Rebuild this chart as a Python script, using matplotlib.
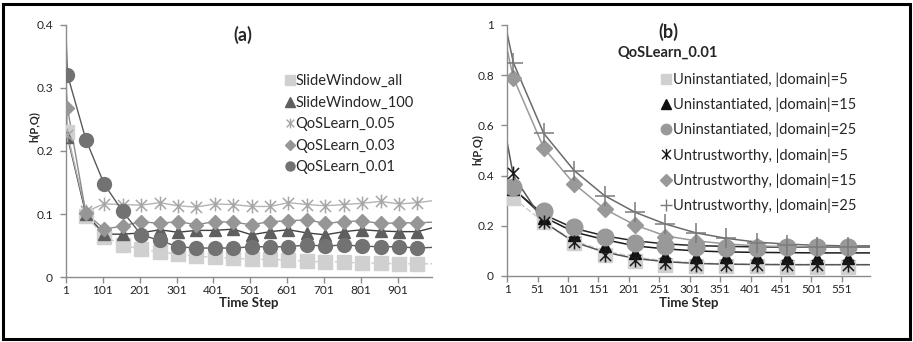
import numpy as np
import matplotlib
matplotlib.use("Agg")
import matplotlib.pyplot as plt
from matplotlib.path import Path
from matplotlib.lines import Line2D
from matplotlib.patches import Rectangle

plt.rcParams['font.family'] = ['Lato', 'DejaVu Sans']

# ---------- (a) data: marker values every 50 steps ----------
a_steps = [5, 55, 105, 155, 205, 255, 305, 355, 405, 455,
           505, 555, 605, 655, 705, 755, 805, 855, 905, 955]
sw_all = [0.230, 0.097, 0.064, 0.051, 0.044, 0.040, 0.036, 0.033, 0.031, 0.030,
          0.028, 0.028, 0.027, 0.025, 0.024, 0.024, 0.022, 0.022, 0.021, 0.021]
sw_100 = [0.222, 0.100, 0.068, 0.068, 0.070, 0.075, 0.071, 0.074, 0.074, 0.076,
          0.067, 0.072, 0.075, 0.070, 0.067, 0.072, 0.075, 0.073, 0.072, 0.072]
qos_05 = [0.225, 0.104, 0.116, 0.115, 0.114, 0.118, 0.113, 0.111, 0.116, 0.115,
          0.112, 0.112, 0.118, 0.115, 0.113, 0.115, 0.117, 0.120, 0.116, 0.118]
qos_03 = [0.268, 0.101, 0.076, 0.081, 0.088, 0.085, 0.088, 0.083, 0.088, 0.087,
          0.083, 0.088, 0.089, 0.091, 0.085, 0.088, 0.089, 0.085, 0.086, 0.086]
qos_01 = [0.321, 0.218, 0.147, 0.104, 0.067, 0.058, 0.048, 0.046, 0.046, 0.046,
          0.048, 0.048, 0.048, 0.051, 0.049, 0.051, 0.049, 0.048, 0.048, 0.046]
# line values at step 1 and at the last step
a_first = [0.240, 0.230, 0.330, 0.300, 0.385]
a_last = [0.021, 0.078, 0.121, 0.087, 0.047]
a_labels = ['SlideWindow_all', 'SlideWindow_100', 'QoSLearn_0.05',
            'QoSLearn_0.03', 'QoSLearn_0.01']
a_xticks = [1, 101, 201, 301, 401, 501, 601, 701, 801, 901]
a_yticks = [0, 0.1, 0.2, 0.3, 0.4]
a_yticklabels = ['0', '0.1', '0.2', '0.3', '0.4']

# ---------- (b) data ----------
b_steps = [11, 61, 111, 161, 211, 261, 311, 361, 411, 461, 511, 561]
un_5 = [0.310, 0.216, 0.132, 0.084, 0.058, 0.045, 0.040, 0.038, 0.038, 0.037, 0.037, 0.037]
un_15 = [0.345, 0.230, 0.163, 0.118, 0.092, 0.080, 0.075, 0.074, 0.074, 0.073, 0.073, 0.073]
un_25 = [0.356, 0.258, 0.194, 0.154, 0.130, 0.120, 0.117, 0.112, 0.112, 0.114, 0.114, 0.117]
ut_5 = [0.409, 0.216, 0.135, 0.084, 0.062, 0.050, 0.045, 0.044, 0.044, 0.044, 0.044, 0.044]
ut_15 = [0.788, 0.511, 0.367, 0.267, 0.203, 0.157, 0.135, 0.125, 0.118, 0.115, 0.114, 0.114]
ut_25 = [0.847, 0.568, 0.420, 0.320, 0.254, 0.207, 0.170, 0.150, 0.130, 0.124, 0.117, 0.117]
# smooth curves
b_line_steps = [1, 11, 61, 111, 161, 211, 261, 311, 361, 411, 461, 511, 561, 597]
un_5_line = [0.33, 0.31, 0.215, 0.140, 0.100, 0.075, 0.060, 0.052, 0.048, 0.046, 0.046, 0.045, 0.045, 0.045]
un_15_line = [0.38, 0.35, 0.235, 0.175, 0.145, 0.120, 0.108, 0.100, 0.096, 0.094, 0.093, 0.092, 0.092, 0.092]
un_25_line = [0.37, 0.345, 0.245, 0.190, 0.160, 0.140, 0.128, 0.121, 0.118, 0.116, 0.115, 0.115, 0.115, 0.115]
ut_5_line = [0.53, 0.40, 0.215, 0.135, 0.095, 0.070, 0.057, 0.050, 0.047, 0.046, 0.045, 0.045, 0.045, 0.045]
ut_15_line = [0.90, 0.79, 0.510, 0.367, 0.267, 0.203, 0.160, 0.140, 0.128, 0.120, 0.117, 0.116, 0.116, 0.116]
ut_25_line = [0.965, 0.85, 0.568, 0.420, 0.320, 0.254, 0.207, 0.172, 0.150, 0.135, 0.127, 0.122, 0.120, 0.120]
b_labels = ['Uninstantiated, |domain|=5', 'Uninstantiated, |domain|=15',
            'Uninstantiated, |domain|=25', 'Untrustworthy, |domain|=5',
            'Untrustworthy, |domain|=15', 'Untrustworthy, |domain|=25']
b_xticks = [1, 51, 101, 151, 201, 251, 301, 351, 401, 451, 501, 551]
b_yticks = [0, 0.2, 0.4, 0.6, 0.8, 1.0]
b_yticklabels = ['0', '0.2', '0.4', '0.6', '0.8', '1']

# excel style asterisk: X plus a vertical bar
star = Path([(-1, -1), (1, 1), (-1, 1), (1, -1), (0, -1.25), (0, 1.25)],
            [Path.MOVETO, Path.LINETO, Path.MOVETO, Path.LINETO, Path.MOVETO, Path.LINETO])

AXIS_GRAY = '#8c8c8c'
TXT = '#262626'


def style_axes(ax, xlim, ylim, xticks, yticks, yticklabels):
    ax.set_xlim(*xlim)
    ax.set_ylim(*ylim)
    ax.set_xticks(xticks)
    ax.set_xticklabels([str(t) for t in xticks])
    ax.set_yticks(yticks)
    ax.set_yticklabels(yticklabels)
    for s in ['top', 'right']:
        ax.spines[s].set_visible(False)
    for s in ['left', 'bottom']:
        ax.spines[s].set_color(AXIS_GRAY)
        ax.spines[s].set_linewidth(1.0)
    ax.tick_params(direction='out', length=4, width=1, color=AXIS_GRAY,
                   labelsize=8.6, labelcolor=TXT)
    ax.tick_params(axis='y', pad=5.5)
    ax.tick_params(axis='x', pad=2)
    ax.patch.set_alpha(0)


fig = plt.figure(figsize=(9.13, 3.42), dpi=100)

# ---------------- panel (a) ----------------
ax1 = fig.add_axes([0.0723, 0.19, 0.401, 0.737])
a_series = [sw_all, sw_100, qos_05, qos_03, qos_01]
a_line_col = ['#cdcdcd', '#404040', '#b4b4b4', '#8c8c8c', '#5a5a5a']
a_line_ls = ['--', '-', '-', '-', '-']
a_mark = ['s', '^', star, 'D', 'o']
a_mcol = ['#d0d0d0', '#5f5f5f', '#a6a6a6', '#969696', '#727272']
a_msize = [10, 9, 10, 7.5, 10]
x_end_a = 995
for vals, f, l, lc, ls in zip(a_series, a_first, a_last, a_line_col, a_line_ls):
    ax1.plot([1] + a_steps + [x_end_a], [f] + vals + [l], color=lc, lw=1.0, ls=ls, zorder=2)
for vals, m, mc, ms in zip(a_series, a_mark, a_mcol, a_msize):
    if m is star:
        ax1.plot(a_steps, vals, ls='none', marker=m, ms=ms, mfc='none', mec=mc, mew=1.1, zorder=3)
    else:
        ax1.plot(a_steps, vals, ls='none', marker=m, ms=ms, mfc=mc, mec=mc, zorder=3)
style_axes(ax1, (1, x_end_a), (0, 0.4), a_xticks, a_yticks, a_yticklabels)

handles_a = []
for m, mc in zip(a_mark, a_mcol):
    if m is star:
        handles_a.append(Line2D([], [], ls='none', marker=m, ms=7, mfc='none', mec=mc, mew=1.0))
    else:
        handles_a.append(Line2D([], [], ls='none', marker=m, ms=6.5 if m != 'D' else 5.5, mfc=mc, mec=mc))
leg1 = ax1.legend(handles_a, a_labels, loc='upper left', bbox_to_anchor=(0.599, 0.805),
                  frameon=False, fontsize=10.5, handlelength=0.7, handletextpad=0.0,
                  labelspacing=0.52, borderpad=0, borderaxespad=0)
for t in leg1.get_texts():
    t.set_color(TXT)

fig.text(243 / 913, 1 - 35 / 342, '(a)', fontsize=13, fontweight='bold', ha='center', va='center', color=TXT)
fig.text(34 / 913, 1 - 127 / 342, 'h(P,Q)', fontsize=8, fontweight='bold', rotation=90,
         ha='center', va='center', color=TXT)
fig.text(249 / 913, 1 - 303 / 342, 'Time Step', fontsize=9.5, fontweight='bold',
         ha='center', va='center', color=TXT)

# ---------------- panel (b) ----------------
ax2 = fig.add_axes([0.5556, 0.193, 0.397, 0.734])
b_marks = [un_5, un_15, un_25, ut_5, ut_15, ut_25]
b_lines = [un_5_line, un_15_line, un_25_line, ut_5_line, ut_15_line, ut_25_line]
b_line_col = ['#cfcfcf', '#1a1a1a', '#262626', '#555555', '#9a9a9a', '#6a6a6a']
b_line_ls = ['--', '-', '-', '-', '-', '-']
b_mark = ['s', '^', 'o', star, 'D', '+']
b_mcol = ['#d0d0d0', '#111111', '#999999', '#1a1a1a', '#999999', '#7a7a7a']
b_msize = [10, 8, 12, 10, 8.5, 14]
for vals, lc, ls in zip(b_lines, b_line_col, b_line_ls):
    ax2.plot(b_line_steps, vals, color=lc, lw=1.1, ls=ls, zorder=2)
for vals, m, mc, ms in zip(b_marks, b_mark, b_mcol, b_msize):
    if m is star or m == '+':
        ax2.plot(b_steps, vals, ls='none', marker=m, ms=ms, mfc='none', mec=mc, mew=1.1, zorder=3)
    else:
        ax2.plot(b_steps, vals, ls='none', marker=m, ms=ms, mfc=mc, mec=mc, zorder=3)
style_axes(ax2, (1, 597), (0, 1.0), b_xticks, b_yticks, b_yticklabels)

handles_b = []
for m, mc in zip(b_mark, b_mcol):
    if m is star or m == '+':
        handles_b.append(Line2D([], [], ls='none', marker=m, ms=8, mfc='none', mec=mc, mew=1.0))
    else:
        handles_b.append(Line2D([], [], ls='none', marker=m, ms=7.5 if m != 'D' else 6, mfc=mc, mec=mc))
leg2 = ax2.legend(handles_b, b_labels, loc='upper left', bbox_to_anchor=(0.424, 0.81),
                  frameon=False, fontsize=10.5, handlelength=0.75, handletextpad=0.1,
                  labelspacing=0.73, borderpad=0, borderaxespad=0)
for t in leg2.get_texts():
    t.set_color(TXT)

fig.text(668 / 913, 1 - 32 / 342, '(b)', fontsize=13, fontweight='bold', ha='center', va='center', color=TXT)
fig.text(668 / 913, 1 - 53 / 342, 'QoSLearn_0.01', fontsize=10.5, fontweight='bold',
         ha='center', va='center', color=TXT)
fig.text(477 / 913, 1 - 150 / 342, 'h(P,Q)', fontsize=8, fontweight='bold', rotation=90,
         ha='center', va='center', color=TXT)
fig.text(689 / 913, 1 - 303 / 342, 'Time Step', fontsize=9.5, fontweight='bold',
         ha='center', va='center', color=TXT)

# outer frame around both panels
fig.patches.append(Rectangle((3 / 913, 3 / 342), 907 / 913, 335 / 342, transform=fig.transFigure,
                             fill=False, edgecolor='black', linewidth=2.2))

fig.savefig('out.png', dpi=100, facecolor='white')
